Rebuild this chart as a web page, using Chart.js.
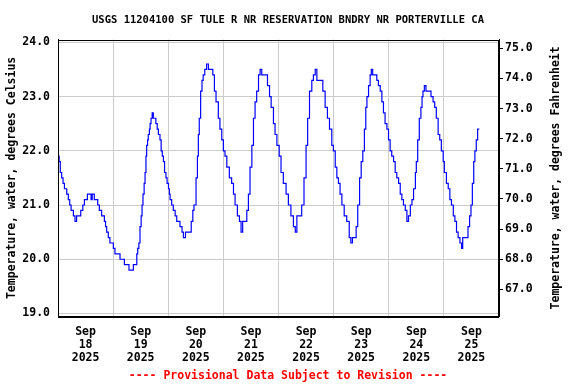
<!DOCTYPE html>
<html>
<head>
    <title>USGS 11204100 water temperature</title>
    <script src="https://cdn.jsdelivr.net/npm/chart.js"></script>
    <style>
        body { margin: 0; background: #fff; }
        #wrap { width: 576px; height: 384px; }
    </style>
</head>
<body>
    <div id="wrap"><canvas id="tempChart"></canvas></div>

    <script>
        // hours after Sep 18 2025 00:00, and water temperature (deg C)
        var hours = [0, 0.5, 1, 1.6, 2.2, 2.8, 3.8, 4.5, 5.1, 5.7, 6.7, 7.4, 8.1, 9.9, 10.8, 11.5, 12.8, 14.4, 14.9, 15.8, 17.3,
            18.0, 19.0, 20.2, 20.7, 21.2, 21.9, 22.6, 24.1, 24.8, 27.0, 28.9, 30.9, 32.8, 34.3, 34.7, 35.2, 35.7, 36.2, 36.6,
            37.0, 37.5, 37.9, 38.3, 38.6, 39.0, 39.3, 39.8, 40.1, 40.5, 41.0, 41.5, 42.6, 43.2, 43.7, 44.4, 44.9, 45.4, 45.9,
            46.4, 47.0, 47.5, 48.1, 48.5, 48.8, 49.5, 50.2, 51.0, 51.7, 53.1, 54.0, 54.6, 55.5, 58.0, 58.7, 59.2, 60.1, 60.7,
            61.1, 61.5, 62.1, 62.7, 63.2, 63.9, 64.7, 65.5, 67.4, 68.1, 68.8, 69.8, 70.5, 71.3, 72.0, 72.7, 73.5, 74.6, 75.6,
            76.4, 77.1, 78.1, 79.0, 79.7, 80.4, 82.2, 82.9, 83.6, 84.4, 85.1, 85.8, 86.5, 87.3, 88.0, 88.7, 91.2, 92.1, 92.8,
            93.8, 94.5, 95.3, 96.3, 97.1, 98.1, 99.3, 100.3, 101.4, 102.5, 103.3, 104.0, 106.1, 107.1, 108.0, 108.7, 109.5,
            110.5, 111.2, 112.0, 112.7, 115.3, 116.3, 117.3, 118.2, 119.2, 119.9, 120.7, 121.4, 122.1, 122.8, 123.6, 124.6,
            125.7, 126.8, 127.5, 128.2, 129.8, 130.5, 131.3, 132.0, 132.7, 133.4, 134.0, 134.5, 135.2, 135.9, 136.4, 137.0,
            138.8, 139.5, 140.3, 141.0, 141.7, 142.4, 143.2, 143.9, 144.6, 145.3, 146.1, 146.8, 147.5, 148.3, 149.0, 149.7,
            150.4, 151.2, 151.9, 152.6, 153.4, 154.1, 154.8, 155.6, 156.0, 156.6, 157.3, 158.0, 158.5, 158.9, 159.5, 160.2,
            162.4, 163.3, 164.0, 164.7, 165.5, 166.2, 166.9, 167.7, 168.2, 169.1, 169.9, 170.6, 171.3, 172.1, 172.8, 173.5,
            174.2, 175.0, 175.7, 176.2, 178.5, 179.2, 179.8, 180.4, 181.0, 181.5, 182.1, 182.7, 183.4];
        var tempC = [22.0, 21.9, 21.8, 21.6, 21.5, 21.4, 21.3, 21.2, 21.1, 21.0, 20.9, 20.8, 20.7, 20.8, 20.9, 21.0, 21.1, 21.2, 21.1, 21.2, 21.1,
            21.0, 20.9, 20.8, 20.7, 20.6, 20.5, 20.4, 20.3, 20.2, 20.1, 20.0, 19.9, 19.8, 19.9, 20.1, 20.2, 20.3, 20.6, 20.8,
            21.0, 21.2, 21.4, 21.6, 21.9, 22.1, 22.2, 22.3, 22.4, 22.5, 22.6, 22.7, 22.6, 22.5, 22.4, 22.3, 22.2, 22.0, 21.9,
            21.8, 21.6, 21.5, 21.4, 21.3, 21.2, 21.1, 21.0, 20.9, 20.8, 20.7, 20.6, 20.5, 20.4, 20.5, 20.7, 20.9, 21.0, 21.5,
            21.9, 22.3, 22.6, 23.1, 23.3, 23.4, 23.5, 23.6, 23.5, 23.4, 23.1, 22.9, 22.6, 22.4, 22.2, 22.0, 21.9, 21.7, 21.5,
            21.4, 21.2, 21.0, 20.8, 20.7, 20.5, 20.7, 20.9, 21.2, 21.7, 22.1, 22.6, 22.9, 23.1, 23.4, 23.5, 23.4, 23.2, 23.0,
            22.8, 22.5, 22.3, 22.1, 21.9, 21.6, 21.4, 21.2, 21.0, 20.8, 20.6, 20.5, 20.8, 21.0, 21.5, 22.1, 22.6,
            23.1, 23.3, 23.4, 23.5, 23.3, 23.1, 22.8, 22.6, 22.4, 22.1, 22.0, 21.7, 21.5, 21.4, 21.2, 21.0,
            20.8, 20.7, 20.4, 20.3, 20.4, 20.6, 21.0, 21.5, 21.8, 22.0, 22.4, 22.8, 23.0, 23.2, 23.4, 23.5,
            23.4, 23.3, 23.2, 23.1, 22.9, 22.7, 22.5, 22.4, 22.2, 22.0, 21.9, 21.8, 21.6, 21.5, 21.4, 21.2,
            21.1, 21.0, 20.9, 20.7, 20.8, 21.0, 21.1, 21.3, 21.6, 21.8, 22.2, 22.6, 22.8, 23.0, 23.1, 23.2,
            23.1, 23.0, 22.9, 22.8, 22.6, 22.3, 22.2, 22.0, 21.8, 21.6, 21.4, 21.3, 21.1, 21.0, 20.8, 20.7,
            20.5, 20.4, 20.3, 20.2, 20.4, 20.6, 20.8, 21.0, 21.4, 21.8, 22.0, 22.2, 22.4];

        var dayLabels = ["18", "19", "20", "21", "22", "23", "24", "25"];
        var celsiusTicks = [19, 20, 21, 22, 23, 24];
        var fahrenheitTicks = [67, 68, 69, 70, 71, 72, 73, 74, 75];

        var cMin = 18.95, cMax = 24.05;
        var monoFont = "'DejaVu Sans Mono', 'Liberation Mono', monospace";

        function toF(c) { return c * 9 / 5 + 32; }

        // frame round the plot, and the right axis title which reads bottom-to-top
        var framePlugin = {
            id: "frame",
            afterDraw: function(chart) {
                var ctx = chart.ctx, a = chart.chartArea;
                ctx.save();
                ctx.strokeStyle = "#000";
                ctx.lineWidth = 1;
                ctx.strokeRect(Math.round(a.left) + 0.5, Math.round(a.top) + 0.5,
                    Math.round(a.right - a.left) - 1, Math.round(a.bottom - a.top));
                var s = chart.scales.yF;
                ctx.translate(s.right - 20, (a.top + a.bottom) / 2);
                ctx.rotate(-Math.PI / 2);
                ctx.font = "bold 11.5px " + monoFont;
                ctx.fillStyle = "#000";
                ctx.textAlign = "center";
                ctx.textBaseline = "middle";
                ctx.fillText("Temperature, water, degrees Fahrenheit", 0, 0);
                ctx.restore();
            }
        };

        var points = hours.map(function(h, i) { return { x: h, y: tempC[i] }; });

        new Chart(document.getElementById("tempChart"), {
            type: "line",
            data: {
                datasets: [{
                    data: points,
                    borderColor: "#0000ff",
                    borderWidth: 1.2,
                    pointRadius: 0,
                    stepped: "after",
                    fill: false,
                    yAxisID: "y"
                }]
            },
            options: {
                responsive: true,
                maintainAspectRatio: false,
                animation: false,
                layout: { padding: 0 },
                plugins: {
                    legend: { display: false },
                    tooltip: { enabled: false },
                    title: {
                        display: true,
                        text: "USGS 11204100 SF TULE R NR RESERVATION BNDRY NR PORTERVILLE CA",
                        color: "#000",
                        font: { family: monoFont, size: 10.5, weight: "bold", lineHeight: 1.2 },
                        padding: { top: 14, bottom: 13 }
                    },
                    subtitle: {
                        display: true,
                        position: "bottom",
                        text: "---- Provisional Data Subject to Revision ----",
                        color: "#ff0000",
                        font: { family: monoFont, size: 11.5, weight: "bold", lineHeight: 1.2 },
                        padding: { top: 0, bottom: 1 }
                    }
                },
                scales: {
                    x: {
                        type: "linear",
                        min: 0,
                        max: 192,
                        afterBuildTicks: function(scale) {
                            var t = [];
                            for (var v = 0; v <= 192; v += 12) t.push({ value: v });
                            scale.ticks = t;
                        },
                        afterFit: function(scale) { scale.height = 53; },
                        grid: {
                            color: function(c) {
                                return c.tick && c.tick.value % 24 === 0 ? "#cccccc" : "rgba(0,0,0,0)";
                            },
                            drawTicks: false
                        },
                        border: { color: "#000" },
                        ticks: {
                            autoSkip: false,
                            maxRotation: 0,
                            padding: 9,
                            color: "#000",
                            font: { family: monoFont, size: 11.5, weight: "bold", lineHeight: 1.13 },
                            callback: function(v) {
                                if (v % 24 !== 12) return "";
                                return ["Sep", dayLabels[(v - 12) / 24], "2025"];
                            }
                        }
                    },
                    y: {
                        position: "left",
                        min: cMin,
                        max: cMax,
                        afterBuildTicks: function(scale) {
                            scale.ticks = celsiusTicks.map(function(v) { return { value: v }; });
                        },
                        afterFit: function(scale) { scale.width = 58; },
                        grid: { color: "#cccccc", drawTicks: false },
                        border: { color: "#000" },
                        title: {
                            display: true,
                            text: "Temperature, water, degrees Celsius",
                            color: "#000",
                            font: { family: monoFont, size: 11.5, weight: "bold", lineHeight: 1.2 },
                            padding: { top: 5, bottom: 0 }
                        },
                        ticks: {
                            padding: 8,
                            color: "#000",
                            font: { family: monoFont, size: 11.5, weight: "bold" },
                            callback: function(v) { return v.toFixed(1); }
                        }
                    },
                    yF: {
                        position: "right",
                        min: toF(cMin),
                        max: toF(cMax),
                        afterBuildTicks: function(scale) {
                            scale.ticks = fahrenheitTicks.map(function(v) { return { value: v }; });
                        },
                        afterFit: function(scale) { scale.width = 77; },
                        grid: { drawOnChartArea: false, drawTicks: true, tickLength: 4, color: "#000" },
                        border: { color: "#000" },
                        ticks: {
                            padding: 2,
                            color: "#000",
                            font: { family: monoFont, size: 11.5, weight: "bold" },
                            callback: function(v) { return v.toFixed(1); }
                        }
                    }
                }
            },
            plugins: [framePlugin]
        });
    </script>
</body>
</html>
